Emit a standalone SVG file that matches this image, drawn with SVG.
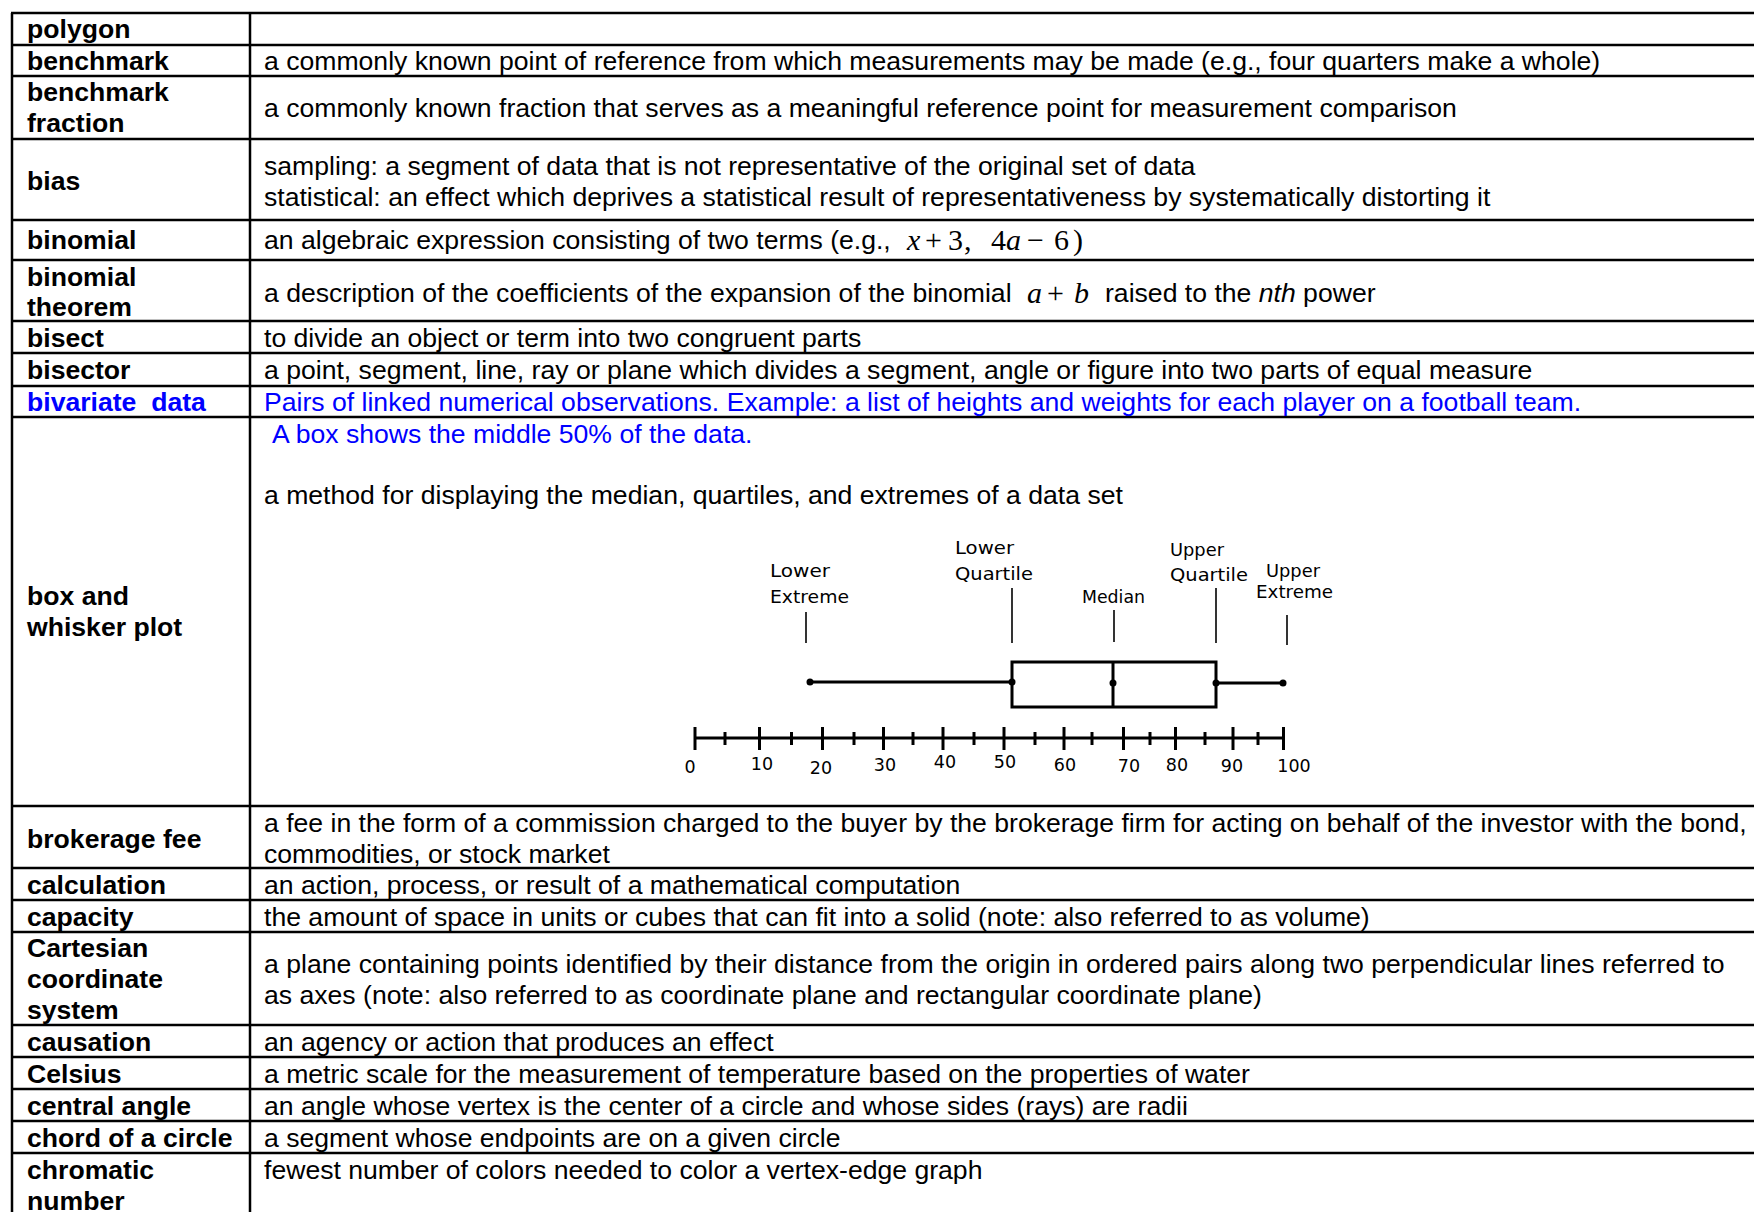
<svg xmlns="http://www.w3.org/2000/svg" width="1754" height="1212" viewBox="0 0 1754 1212">
<style>
.t{font-family:"Liberation Sans",Arial,sans-serif;font-size:26.6px;font-weight:bold;fill:#000}
.d{font-family:"Liberation Sans",Arial,sans-serif;font-size:26.6px;fill:#000}
.blue{fill:#0000ff}
.m{font-family:"Liberation Serif","Times New Roman",serif;font-size:30px;fill:#000}
.mi{font-style:italic}
.grid line{stroke:#000;stroke-width:2.5}
.bp{font-family:"DejaVu Sans",sans-serif;font-size:17.5px;fill:#000}
.thin{stroke:#000;stroke-width:1.6}
.thick{stroke:#000;stroke-width:3;fill:none}
</style>
<rect width="1754" height="1212" fill="#fff"/>
<g id="grid" class="grid">
<line x1="12" y1="13" x2="12" y2="1212"/>
<line x1="250" y1="13" x2="250" y2="1212"/>
<line x1="11" y1="13" x2="1754" y2="13"/>
<line x1="11" y1="45" x2="1754" y2="45"/>
<line x1="11" y1="76" x2="1754" y2="76"/>
<line x1="11" y1="139" x2="1754" y2="139"/>
<line x1="11" y1="220" x2="1754" y2="220"/>
<line x1="11" y1="260" x2="1754" y2="260"/>
<line x1="11" y1="321" x2="1754" y2="321"/>
<line x1="11" y1="353" x2="1754" y2="353"/>
<line x1="11" y1="386" x2="1754" y2="386"/>
<line x1="11" y1="417" x2="1754" y2="417"/>
<line x1="11" y1="806" x2="1754" y2="806"/>
<line x1="11" y1="868" x2="1754" y2="868"/>
<line x1="11" y1="900" x2="1754" y2="900"/>
<line x1="11" y1="932" x2="1754" y2="932"/>
<line x1="11" y1="1025" x2="1754" y2="1025"/>
<line x1="11" y1="1057" x2="1754" y2="1057"/>
<line x1="11" y1="1089" x2="1754" y2="1089"/>
<line x1="11" y1="1121" x2="1754" y2="1121"/>
<line x1="11" y1="1153" x2="1754" y2="1153"/>
</g>
<g id="row-polygon"><text class="t" x="27" y="38">polygon</text></g>
<g id="row-benchmark"><text class="t" x="27" y="70">benchmark</text>
<text class="d" x="264" y="70">a commonly known point of reference from which measurements may be made (e.g., four quarters make a whole)</text></g>
<g id="row-benchmark-fraction"><text class="t" x="27" y="101">benchmark</text><text class="t" x="27" y="132">fraction</text>
<text class="d" x="264" y="117">a commonly known fraction that serves as a meaningful reference point for measurement comparison</text></g>
<g id="row-bias"><text class="t" x="27" y="189.5">bias</text>
<text class="d" x="264" y="174.5">sampling: a segment of data that is not representative of the original set of data</text>
<text class="d" x="264" y="205.5">statistical: an effect which deprives a statistical result of representativeness by systematically distorting it</text></g>
<g id="row-binomial"><text class="t" x="27" y="248.5">binomial</text>
<text class="d" x="264" y="248.5">an algebraic expression consisting of two terms (e.g., </text>
<text class="m" y="249.5"><tspan class="mi" x="907">x</tspan><tspan x="925">+</tspan><tspan x="948">3</tspan><tspan x="964">,</tspan><tspan x="991">4</tspan><tspan class="mi" x="1006">a</tspan><tspan x="1027">−</tspan><tspan x="1054">6</tspan><tspan x="1073">)</tspan></text></g>
<g id="row-binomial-theorem"><text class="t" x="27" y="285.5">binomial</text><text class="t" x="27" y="315.5">theorem</text>
<text class="d" x="264" y="301.5">a description of the coefficients of the expansion of the binomial</text>
<text class="m" y="302.5"><tspan class="mi" x="1027">a</tspan><tspan x="1047">+</tspan><tspan class="mi" x="1074">b</tspan></text>
<text class="d" x="1105" y="301.5">raised to the <tspan font-style="italic">nth</tspan> power</text></g>
<g id="row-bisect"><text class="t" x="27" y="346.5">bisect</text>
<text class="d" x="264" y="346.5">to divide an object or term into two congruent parts</text></g>
<g id="row-bisector"><text class="t" x="27" y="378.5">bisector</text>
<text class="d" x="264" y="378.5">a point, segment, line, ray or plane which divides a segment, angle or figure into two parts of equal measure</text></g>
<g id="row-bivariate"><text class="t blue" x="27" y="410.5" style="white-space:pre">bivariate  data</text>
<text class="d blue" x="264" y="410.5">Pairs of linked numerical observations. Example: a list of heights and weights for each player on a football team.</text></g>
<g id="row-box-whisker">
<text class="t" x="27" y="604.5">box and</text><text class="t" x="27" y="635.5">whisker plot</text>
<text class="d blue" x="272" y="442.5">A box shows the middle 50% of the data.</text>
<text class="d" x="264" y="503.5">a method for displaying the median, quartiles, and extremes of a data set</text>
<g id="boxplot">
<line class="thin" x1="806" y1="612" x2="806" y2="643"/>
<line class="thin" x1="1012" y1="588" x2="1012" y2="643"/>
<line class="thin" x1="1114" y1="610" x2="1114" y2="642"/>
<line class="thin" x1="1216" y1="588" x2="1216" y2="643"/>
<line class="thin" x1="1287" y1="615" x2="1287" y2="645"/>
<text class="bp" x="770" y="577" textLength="60" lengthAdjust="spacingAndGlyphs">Lower</text>
<text class="bp" x="770" y="603" textLength="79" lengthAdjust="spacingAndGlyphs">Extreme</text>
<text class="bp" x="955" y="554" textLength="59" lengthAdjust="spacingAndGlyphs">Lower</text>
<text class="bp" x="955" y="580" textLength="78" lengthAdjust="spacingAndGlyphs">Quartile</text>
<text class="bp" x="1082" y="603" textLength="63" lengthAdjust="spacingAndGlyphs">Median</text>
<text class="bp" x="1170" y="556" textLength="54" lengthAdjust="spacingAndGlyphs">Upper</text>
<text class="bp" x="1170" y="581" textLength="78" lengthAdjust="spacingAndGlyphs">Quartile</text>
<text class="bp" x="1266" y="577" textLength="54" lengthAdjust="spacingAndGlyphs">Upper</text>
<text class="bp" x="1256" y="598" textLength="77" lengthAdjust="spacingAndGlyphs">Extreme</text>
<line class="thick" x1="810" y1="682" x2="1012" y2="682"/>
<line class="thick" x1="1216" y1="683" x2="1283" y2="683"/>
<rect class="thick" x="1012" y="662" width="204" height="45"/>
<line class="thick" x1="1113" y1="662" x2="1113" y2="707"/>
<circle cx="810" cy="682" r="3.5"/>
<circle cx="1012" cy="682" r="3.5"/>
<circle cx="1113" cy="683" r="3.5"/>
<circle cx="1216" cy="683" r="3.5"/>
<circle cx="1283" cy="683" r="3.5"/>
<line class="thick" x1="695" y1="738" x2="1284" y2="738"/>
<g class="thick">
<line x1="695" y1="727" x2="695" y2="750"/>
<line x1="759.5" y1="727" x2="759.5" y2="750"/>
<line x1="822.5" y1="727" x2="822.5" y2="750"/>
<line x1="883.5" y1="727" x2="883.5" y2="750"/>
<line x1="943" y1="727" x2="943" y2="750"/>
<line x1="1004" y1="727" x2="1004" y2="750"/>
<line x1="1064" y1="727" x2="1064" y2="750"/>
<line x1="1123.5" y1="727" x2="1123.5" y2="750"/>
<line x1="1175.5" y1="727" x2="1175.5" y2="750"/>
<line x1="1233" y1="727" x2="1233" y2="750"/>
<line x1="1283.5" y1="727" x2="1283.5" y2="750"/>
<line x1="725" y1="732" x2="725" y2="745"/>
<line x1="791.5" y1="732" x2="791.5" y2="745"/>
<line x1="854" y1="732" x2="854" y2="745"/>
<line x1="913" y1="732" x2="913" y2="745"/>
<line x1="974" y1="732" x2="974" y2="745"/>
<line x1="1035" y1="732" x2="1035" y2="745"/>
<line x1="1092" y1="732" x2="1092" y2="745"/>
<line x1="1150" y1="732" x2="1150" y2="745"/>
<line x1="1205" y1="732" x2="1205" y2="745"/>
<line x1="1258" y1="732" x2="1258" y2="745"/>
</g>
<g class="bp" text-anchor="middle">
<text x="690" y="773">0</text>
<text x="762" y="770">10</text>
<text x="821" y="774">20</text>
<text x="885" y="771">30</text>
<text x="945" y="768">40</text>
<text x="1005" y="768">50</text>
<text x="1065" y="771">60</text>
<text x="1129" y="772">70</text>
<text x="1177" y="771">80</text>
<text x="1232" y="772">90</text>
<text x="1294" y="772">100</text>
</g>
</g>
</g>
<g id="row-brokerage-fee"><text class="t" x="27" y="847.5">brokerage fee</text>
<text class="d" x="264" y="831.5">a fee in the form of a commission charged to the buyer by the brokerage firm for acting on behalf of the investor with the bond,</text>
<text class="d" x="264" y="862.5">commodities, or stock market</text></g>
<g id="row-calculation"><text class="t" x="27" y="893.5">calculation</text>
<text class="d" x="264" y="893.5">an action, process, or result of a mathematical computation</text></g>
<g id="row-capacity"><text class="t" x="27" y="925.5">capacity</text>
<text class="d" x="264" y="925.5">the amount of space in units or cubes that can fit into a solid (note: also referred to as volume)</text></g>
<g id="row-cartesian"><text class="t" x="27" y="956.5">Cartesian</text><text class="t" x="27" y="987.5">coordinate</text><text class="t" x="27" y="1018.5">system</text>
<text class="d" x="264" y="972.5">a plane containing points identified by their distance from the origin in ordered pairs along two perpendicular lines referred to</text>
<text class="d" x="264" y="1003.5">as axes (note: also referred to as coordinate plane and rectangular coordinate plane)</text></g>
<g id="row-causation"><text class="t" x="27" y="1050.5">causation</text>
<text class="d" x="264" y="1050.5">an agency or action that produces an effect</text></g>
<g id="row-celsius"><text class="t" x="27" y="1082.5">Celsius</text>
<text class="d" x="264" y="1082.5">a metric scale for the measurement of temperature based on the properties of water</text></g>
<g id="row-central-angle"><text class="t" x="27" y="1114.5">central angle</text>
<text class="d" x="264" y="1114.5">an angle whose vertex is the center of a circle and whose sides (rays) are radii</text></g>
<g id="row-chord"><text class="t" x="27" y="1146.5">chord of a circle</text>
<text class="d" x="264" y="1146.5">a segment whose endpoints are on a given circle</text></g>
<g id="row-chromatic"><text class="t" x="27" y="1178.5">chromatic</text><text class="t" x="27" y="1209.5">number</text>
<text class="d" x="264" y="1178.5">fewest number of colors needed to color a vertex-edge graph</text></g>
</svg>
